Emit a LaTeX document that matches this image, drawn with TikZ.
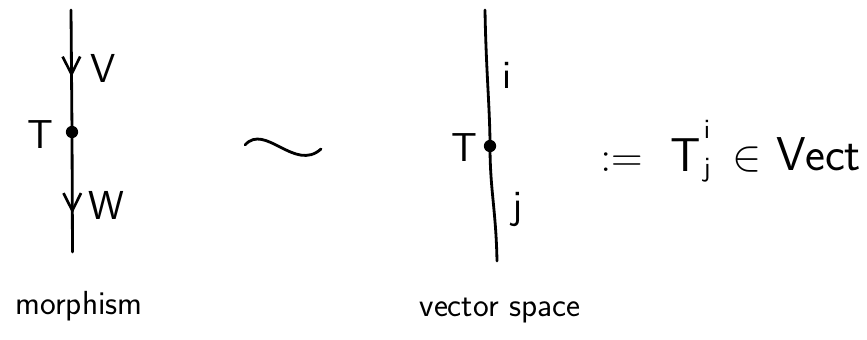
\documentclass[tikz,border=0pt]{standalone}
\usepackage{tikz}
\usetikzlibrary{arrows.meta, decorations.markings}

\tikzset{
  strand/.style={line width=1.6pt, line cap=round},
  midarrow/.style={postaction={decorate}, decoration={markings,
      mark=at position #1 with {\arrow{Straight Barb[length=10pt, width=10pt, line width=1.5pt]}}}},
  vertexdot/.style={circle, fill, inner sep=0pt, minimum size=7pt},
  lbl/.style={font=\sffamily\fontsize{23}{27}\selectfont, inner sep=1pt},
  caption/.style={font=\sffamily\fontsize{19}{23}\selectfont, inner sep=1pt},
  formula/.style={font=\sffamily\fontsize{27}{32}\selectfont, inner sep=0pt},
  index/.style={font=\sffamily\fontsize{16}{19}\selectfont, inner sep=0pt}
}

\begin{document}
\begin{tikzpicture}
  \useasboundingbox (0,0) rectangle (17.34,-6.78);

  % morphism picture
  \coordinate (mtop) at (1.42,-0.2);
  \node[vertexdot] (mdot) at (1.44,-2.64) {};
  \coordinate (mbot) at (1.45,-5.04);
  \draw[strand, midarrow=0.55] (mtop) -- (mdot.center);
  \draw[strand, midarrow=0.68] (mdot.center) -- (mbot);
  \node[lbl] (mT) at (0.80,-2.70) {T};
  \node[lbl] (mV) at (2.06,-1.36) {V};
  \node[lbl] (mW) at (2.12,-4.10) {W};
  \node[caption] (morph) at (1.58,-6.12) {morphism};

  % tilde
  \coordinate (tl) at (4.90,-2.90);
  \coordinate (tr) at (6.42,-2.98);
  \draw[strand] (tl) .. controls (5.30,-2.45) and (5.90,-3.45) .. (tr);

  % vector space picture
  \coordinate (vtop) at (9.70,-0.20);
  \node[vertexdot] (vdot) at (9.80,-2.92) {};
  \coordinate (vbot) at (9.94,-5.22);
  \draw[strand] (vtop) .. controls (9.72,-1.40) and (9.80,-2.20) .. (vdot.center)
                       .. controls (9.80,-3.80) and (9.92,-4.20) .. (vbot);
  \node[lbl] (vT) at (9.28,-2.96) {T};
  \node[lbl] (vi) at (10.14,-1.50) {i};
  \node[lbl] (vj) at (10.36,-4.20) {j};
  \node[caption] (vspace) at (10.00,-6.22) {vector space};

  % definition
  \node[formula, anchor=west] (defeq) at (12.00,-3.10) {$:=$\; T};
  \node[index] (sup) at (14.14,-2.58) {i};
  \node[index] (sub) at (14.14,-3.40) {j};
  \node[formula, anchor=west] (inv) at (14.65,-3.10) {$\in$ Vect};
\end{tikzpicture}
\end{document}
